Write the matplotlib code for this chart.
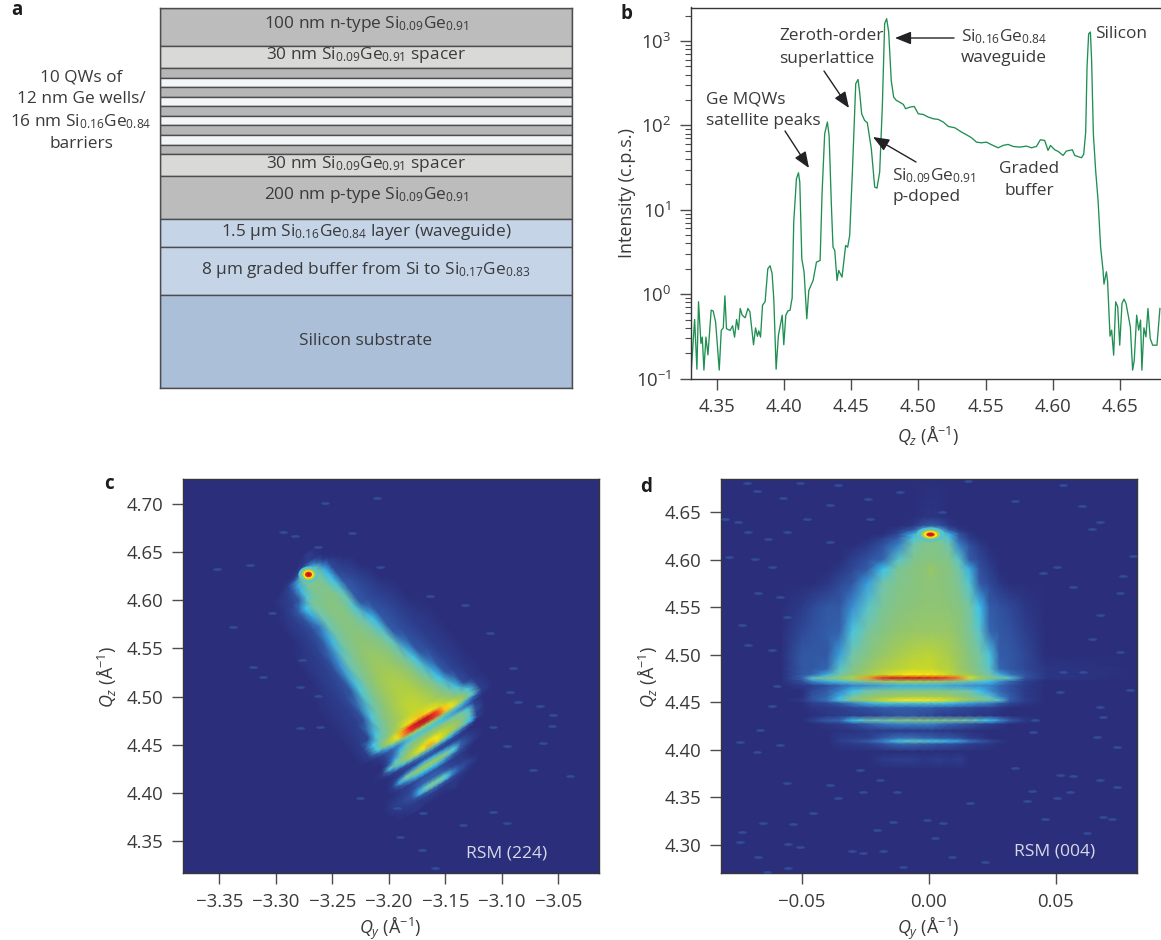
import numpy as np
import matplotlib
matplotlib.use('Agg')
import matplotlib.pyplot as plt
from matplotlib.colors import LinearSegmentedColormap
from matplotlib.path import Path
from matplotlib.transforms import Affine2D

plt.rcParams['font.family'] = ['Open Sans', 'DejaVu Sans']
plt.rcParams['mathtext.fontset'] = 'custom'
plt.rcParams['mathtext.rm'] = 'Open Sans'
plt.rcParams['mathtext.it'] = 'Open Sans:italic'
plt.rcParams['mathtext.bf'] = 'Open Sans:bold'
plt.rcParams['mathtext.default'] = 'regular'

W, H = 1161, 940
TXT = '#3a3a3c'
LINE = '#4b4b50'

# panel a: layer stack, edges counted down from the top of the box
layer_edges = [7.5, 45.5, 68, 77.5, 87, 96.5, 106, 115.5, 125, 135, 144.5, 154, 175.5, 218.5, 247, 294.5, 388]
layer_colors = ['#bcbcbc', '#d9dad8', '#b6b6b6', '#f3f5f7', '#b6b6b6', '#f3f5f7', '#b6b6b6', '#f3f5f7',
                '#b6b6b6', '#f3f5f7', '#b6b6b6', '#d9dad8', '#bcbcbc', '#c5d5e7', '#c5d5e7', '#abbfd9']

# panel b: x-ray trace
qz_b = [4.3309, 4.3337, 4.3354, 4.3366, 4.3384, 4.3394, 4.3406, 4.3421, 4.3436, 4.3460, 4.3475, 4.3493,
        4.3520, 4.3535, 4.3550, 4.3562, 4.3574, 4.3601, 4.3619, 4.3634, 4.3649, 4.3663, 4.3676, 4.3691,
        4.3713, 4.3733, 4.3748, 4.3775, 4.3790, 4.3804, 4.3814, 4.3827, 4.3842, 4.3861, 4.3881, 4.3898,
        4.3913, 4.3926, 4.3943, 4.3960, 4.3988, 4.4000, 4.4015, 4.4030, 4.4047, 4.4059, 4.4062, 4.4074,
        4.4094, 4.4109, 4.4119, 4.4134, 4.4151, 4.4171, 4.4186, 4.4218, 4.4243, 4.4270, 4.4285, 4.4304,
        4.4324, 4.4337, 4.4354, 4.4366, 4.4379, 4.4396, 4.4408, 4.4433, 4.4460, 4.4475, 4.4490, 4.4510,
        4.4535, 4.4552, 4.4564, 4.4579, 4.4601, 4.4621, 4.4651, 4.4676, 4.4693, 4.4713, 4.4733, 4.4750,
        4.4765, 4.4780, 4.4799, 4.4817, 4.4837, 4.4852, 4.4889, 4.4906, 4.4938, 4.4970, 4.5000, 4.5037,
        4.5074, 4.5111, 4.5149, 4.5186, 4.5223, 4.5272, 4.5322, 4.5359, 4.5396, 4.5433, 4.5470, 4.5507,
        4.5545, 4.5594, 4.5631, 4.5668, 4.5705, 4.5755, 4.5804, 4.5842, 4.5879, 4.5908, 4.5940, 4.5965,
        4.5983, 4.6015, 4.6040, 4.6077, 4.6101, 4.6146, 4.6163, 4.6213, 4.6230, 4.6245, 4.6255, 4.6267,
        4.6280, 4.6289, 4.6302, 4.6319, 4.6337, 4.6356, 4.6374, 4.6381, 4.6399, 4.6408, 4.6426, 4.6438,
        4.6453, 4.6468, 4.6483, 4.6498, 4.6515, 4.6530, 4.6545, 4.6577, 4.6594, 4.6606, 4.6624, 4.6639,
        4.6653, 4.6663, 4.6678, 4.6693, 4.6708, 4.6725, 4.6743, 4.6775, 4.6797]
log_i_b = [-0.98, -0.30, -0.89, -0.09, -0.585, -0.51, -0.90, -0.51, -0.72, -0.19, -0.20, -0.33,
           -0.90, -0.43, -0.40, -0.02, -0.41, -0.43, -0.375, -0.51, -0.30, -0.42, -0.17, -0.25,
           -0.28, -0.17, -0.21, -0.60, -0.40, -0.50, -0.435, -0.51, -0.13, -0.09, 0.30, 0.336,
           0.245, -0.07, -0.89, -0.49, -0.25, -0.60, -0.25, -0.20, -0.19, -0.07, -0.055, 0.854,
           1.368, 1.439, 1.328, 0.419, 0.261, -0.292, 0.043, 0.162, 0.379, 0.399, 1.21, 1.90,
           2.04, 1.88, 1.05, 0.557, 0.518, 0.162, 0.281, 0.202, 0.577, 0.557, 0.696, 1.447,
           2.494, 2.545, 2.395, 2.138, 2.059, 2.032, 1.723, 1.269, 1.257, 1.447, 2.237, 3.206,
           3.265, 3.107, 2.534, 2.336, 2.296, 2.285, 2.249, 2.198, 2.217, 2.225, 2.138, 2.130,
           2.099, 2.079, 2.071, 2.04, 1.988, 1.972, 1.921, 1.889, 1.854, 1.802, 1.794, 1.802,
           1.771, 1.735, 1.763, 1.775, 1.751, 1.743, 1.755, 1.735, 1.751, 1.83, 1.822, 1.704,
           1.763, 1.711, 1.692, 1.644, 1.696, 1.711, 1.644, 1.617, 1.656, 1.921, 2.692, 3.087,
           3.107, 2.771, 1.901, 1.466, 1.111, 0.557, 0.281, 0.119, 0.265, 0.146, -0.498, -0.427,
           -0.723, -0.091, -0.150, -0.605, -0.111, -0.059, -0.111, -0.387, -0.901, -0.783, -0.249, -0.427,
           -0.308, -0.901, -0.399, -0.506, -0.170, -0.526, -0.605, -0.605, -0.170]

# panel c: intensity map, rows run along the slanted fringes (0-100 scale)
v_c = [4.650, 4.640, 4.634, 4.630, 4.627, 4.624, 4.620, 4.612, 4.604, 4.595, 4.585, 4.570, 4.550, 4.525, 4.500,
       4.485, 4.479, 4.476, 4.473, 4.470, 4.466, 4.462, 4.458, 4.454, 4.450, 4.446, 4.442, 4.438, 4.434, 4.430,
       4.427, 4.424, 4.420, 4.414, 4.410, 4.407, 4.404, 4.400, 4.392]
w_c = [-.06, -.05, -.042, -.036, -.03, -.024, -.018, -.012, -.006, -.002, .002, .006, .012, .018, .024, .03, .036, .042, .05, .06]
axis_v_c = [4.38, 4.407, 4.427, 4.45, 4.473, 4.627]
axis_qy_c = [-3.160, -3.161, -3.1665, -3.1636, -3.168, -3.271]
fringe_slope_c = 0.697
z_c = [
    [0, 0, 0, 0, 0, 0, 0, 0, 0, 5, 5, 0, 0, 0, 0, 0, 0, 0, 0, 0],
    [0, 0, 0, 0, 0, 0, 0, 0, 4, 8, 8, 5, 0, 0, 0, 0, 0, 0, 0, 0],
    [0, 0, 0, 0, 0, 0, 0, 4, 12, 22, 24, 18, 6, 0, 0, 0, 0, 0, 0, 0],
    [0, 0, 0, 0, 0, 0, 4, 10, 26, 38, 40, 32, 16, 6, 0, 0, 0, 0, 0, 0],
    [0, 0, 0, 0, 0, 0, 8, 18, 36, 48, 48, 38, 22, 10, 4, 0, 0, 0, 0, 0],
    [0, 0, 0, 0, 0, 4, 10, 24, 38, 44, 44, 40, 26, 10, 6, 0, 0, 0, 0, 0],
    [0, 0, 0, 0, 4, 6, 12, 26, 38, 42, 42, 38, 27, 10, 7, 4, 0, 0, 0, 0],
    [0, 0, 0, 0, 6, 9, 14, 31, 40, 42, 42, 38, 29, 12, 9, 6, 0, 0, 0, 0],
    [0, 0, 0, 4, 8, 14, 28, 38, 42, 42, 44, 42, 32, 14, 11, 8, 4, 0, 0, 0],
    [0, 0, 0, 5, 8, 12, 24, 36, 42, 44, 44, 42, 34, 14, 11, 9, 6, 0, 0, 0],
    [0, 0, 0, 5, 8, 11, 19, 34, 42, 44, 44, 42, 31, 13, 11, 9, 7, 4, 0, 0],
    [0, 0, 4, 6, 9, 14, 26, 37, 42, 44, 44, 42, 35, 27, 13, 11, 9, 6, 0, 0],
    [0, 0, 6, 8, 11, 22, 34, 41, 46, 48, 48, 46, 42, 33, 14, 11, 9, 7, 4, 0],
    [0, 4, 7, 10, 13, 30, 39, 47, 52, 54, 54, 52, 48, 40, 29, 13, 11, 8, 5, 0],
    [0, 5, 8, 12, 30, 39, 46, 53, 58, 60, 60, 60, 55, 48, 39, 28, 13, 9, 5, 0],
    [0, 6, 10, 29, 37, 45, 52, 58, 63, 65, 65, 63, 60, 55, 47, 39, 29, 11, 5, 0],
    [0, 8, 28, 36, 42, 52, 62, 72, 78, 80, 80, 78, 72, 66, 56, 46, 38, 30, 8, 0],
    [0, 8, 30, 44, 56, 70, 84, 92, 98, 99, 99, 96, 90, 80, 70, 56, 46, 32, 8, 0],
    [0, 8, 30, 46, 62, 72, 86, 92, 96, 98, 98, 94, 90, 80, 72, 60, 46, 32, 8, 0],
    [0, 6, 16, 24, 32, 40, 46, 50, 54, 54, 54, 52, 48, 44, 40, 32, 24, 16, 6, 0],
    [0, 0, 6, 12, 16, 20, 26, 30, 30, 30, 30, 30, 28, 26, 24, 20, 16, 8, 0, 0],
    [0, 0, 4, 10, 16, 26, 36, 40, 42, 44, 44, 44, 42, 40, 38, 36, 30, 10, 0, 0],
    [0, 0, 0, 10, 20, 33, 41, 47, 52, 54, 55, 56, 56, 52, 48, 42, 34, 12, 0, 0],
    [0, 0, 0, 12, 29, 40, 49, 58, 66, 70, 72, 74, 66, 58, 52, 42, 31, 8, 0, 0],
    [0, 0, 6, 31, 40, 47, 57, 68, 76, 82, 82, 74, 66, 55, 45, 36, 27, 8, 0, 0],
    [0, 0, 4, 14, 24, 30, 36, 40, 42, 42, 42, 40, 34, 28, 22, 16, 10, 0, 0, 0],
    [0, 0, 0, 4, 8, 10, 14, 16, 18, 18, 18, 16, 14, 12, 10, 6, 0, 0, 0, 0],
    [0, 0, 0, 0, 4, 6, 8, 8, 10, 10, 10, 10, 8, 8, 8, 6, 4, 0, 0, 0],
    [0, 0, 0, 0, 6, 10, 16, 20, 24, 26, 26, 26, 24, 22, 18, 12, 8, 4, 0, 0],
    [0, 0, 0, 0, 8, 22, 34, 40, 46, 48, 48, 48, 44, 36, 32, 14, 10, 4, 0, 0],
    [0, 0, 0, 0, 8, 26, 36, 44, 50, 50, 50, 50, 46, 38, 30, 14, 10, 6, 0, 0],
    [0, 0, 0, 0, 6, 14, 20, 26, 28, 28, 28, 28, 26, 20, 14, 10, 6, 0, 0, 0],
    [0, 0, 0, 0, 2, 6, 8, 10, 12, 12, 12, 12, 10, 8, 6, 4, 0, 0, 0, 0],
    [0, 0, 0, 4, 6, 8, 10, 14, 16, 16, 16, 16, 14, 10, 8, 6, 0, 0, 0, 0],
    [0, 0, 0, 6, 8, 10, 12, 24, 32, 36, 36, 36, 32, 20, 12, 10, 6, 0, 0, 0],
    [0, 0, 0, 5, 8, 10, 12, 26, 34, 36, 36, 34, 30, 18, 12, 8, 4, 0, 0, 0],
    [0, 0, 0, 4, 6, 8, 10, 12, 14, 16, 16, 14, 12, 10, 8, 6, 0, 0, 0, 0],
    [0, 0, 0, 0, 4, 6, 6, 6, 8, 8, 8, 6, 6, 6, 4, 0, 0, 0, 0, 0],
    [0, 0, 0, 0, 0, 0, 4, 4, 0, 0, 0, 0, 0, 4, 0, 0, 0, 0, 0, 0],
]
speck_qy_c = [-3.2565, -3.2108, -3.2934, -3.2830, -3.2329, -3.3524, -3.3229, -3.2078, -3.2624, -3.1326, -3.1636,
              -3.3037, -3.3376, -3.1105, -3.0898, -3.3199, -3.2771, -3.3111, -3.2786, -3.2624, -3.0928, -3.0662,
              -3.0854, -3.0544, -3.0559, -3.1075, -3.2786, -3.2609, -3.0633, -3.0721, -3.0397, -3.0957, -3.2255,
              -3.1931, -3.1695, -3.1075, -3.0957, -3.1901, -3.1341, -3.1709, -3.1591]
speck_qz_c = [4.7007, 4.7059, 4.6713, 4.6668, 4.6695, 4.6325, 4.6366, 4.6349, 4.6557, 4.5951, 4.6044,
              4.5871, 4.5726, 4.5663, 4.5293, 4.5310, 4.5379, 4.5199, 4.5102, 4.5009, 4.5051, 4.4902,
              4.4940, 4.4808, 4.4694, 4.4687, 4.4670, 4.4687, 4.4514, 4.4237, 4.4178, 4.4486, 4.3943,
              4.3839, 4.3787, 4.3804, 4.3683, 4.3544, 4.3666, 4.3406, 4.3215]

# panel d: intensity map (0-100 scale)
qy_d = [-.082, -.058, -.050, -.046, -.040, -.035, -.030, -.024, -.018, -.012, -.006, -.002, .001, .004, .008,
        .012, .016, .020, .024, .028, .032, .038, .046, .082]
qz_d = [4.685, 4.645, 4.636, 4.631, 4.627, 4.623, 4.615, 4.600, 4.590, 4.575, 4.550, 4.525, 4.500, 4.485,
        4.479, 4.4755, 4.472, 4.4675, 4.462, 4.456, 4.452, 4.449, 4.444, 4.436, 4.431, 4.427, 4.420, 4.412,
        4.409, 4.406, 4.398, 4.390, 4.380, 4.270]
z_d = [
    [0] * 24,
    [0, 0, 0, 0, 0, 0, 0, 0, 0, 0, 0, 3, 3, 3, 0, 0, 0, 0, 0, 0, 0, 0, 0, 0],
    [0, 0, 0, 0, 0, 0, 0, 0, 0, 0, 4, 12, 14, 12, 5, 0, 0, 0, 0, 0, 0, 0, 0, 0],
    [0, 0, 0, 0, 0, 0, 0, 0, 0, 6, 14, 30, 36, 30, 14, 5, 0, 0, 0, 0, 0, 0, 0, 0],
    [0, 0, 0, 0, 0, 0, 0, 0, 0, 10, 26, 44, 48, 44, 26, 12, 4, 0, 0, 0, 0, 0, 0, 0],
    [0, 0, 0, 0, 0, 0, 0, 0, 8, 14, 30, 40, 44, 40, 30, 14, 6, 0, 0, 0, 0, 0, 0, 0],
    [0, 0, 0, 0, 0, 0, 0, 6, 12, 20, 36, 42, 42, 42, 36, 20, 12, 6, 0, 0, 0, 0, 0, 0],
    [0, 0, 0, 0, 0, 0, 8, 12, 16, 32, 42, 44, 44, 44, 42, 32, 14, 10, 5, 0, 0, 0, 0, 0],
    [0, 0, 0, 0, 0, 5, 10, 14, 28, 40, 44, 46, 50, 46, 44, 36, 26, 12, 8, 0, 0, 0, 0, 0],
    [0, 0, 0, 0, 4, 10, 13, 24, 36, 42, 44, 46, 46, 46, 44, 40, 31, 14, 10, 5, 0, 0, 0, 0],
    [0, 0, 6, 10, 13, 13, 22, 32, 40, 44, 46, 47, 47, 47, 46, 44, 38, 28, 14, 12, 10, 5, 0, 0],
    [0, 0, 10, 12, 14, 15, 30, 38, 44, 48, 50, 50, 50, 50, 50, 46, 40, 32, 16, 13, 12, 8, 0, 0],
    [0, 0, 13, 13, 13, 24, 36, 44, 50, 56, 60, 62, 62, 60, 56, 50, 44, 38, 30, 14, 13, 10, 0, 0],
    [0, 0, 13, 13, 16, 32, 42, 50, 58, 62, 66, 66, 66, 62, 60, 52, 46, 40, 32, 16, 13, 10, 4, 0],
    [0, 0, 13, 15, 26, 36, 46, 56, 66, 72, 76, 74, 74, 72, 66, 58, 52, 44, 36, 26, 18, 12, 4, 0],
    [0, 0, 15, 32, 42, 50, 60, 84, 93, 97, 98, 97, 96, 94, 90, 86, 70, 56, 46, 40, 32, 12, 4, 0],
    [0, 0, 11, 20, 26, 30, 34, 42, 50, 54, 56, 54, 52, 50, 46, 40, 34, 32, 28, 22, 16, 8, 0, 0],
    [0, 0, 6, 8, 12, 16, 20, 22, 24, 26, 26, 26, 26, 26, 24, 24, 22, 22, 20, 16, 12, 6, 0, 0],
    [0, 0, 0, 10, 14, 20, 28, 36, 40, 42, 42, 42, 42, 42, 40, 38, 34, 28, 22, 16, 12, 6, 0, 0],
    [0, 0, 0, 12, 16, 26, 38, 46, 50, 52, 54, 54, 54, 54, 52, 48, 44, 38, 32, 20, 14, 6, 0, 0],
    [0, 0, 6, 12, 18, 30, 44, 54, 66, 74, 76, 76, 74, 72, 68, 60, 50, 44, 38, 32, 14, 8, 0, 0],
    [0, 0, 0, 8, 10, 14, 20, 26, 30, 30, 30, 30, 30, 30, 28, 26, 24, 22, 20, 14, 10, 4, 0, 0],
    [0, 0, 0, 4, 6, 8, 10, 12, 14, 14, 14, 14, 14, 12, 12, 10, 10, 8, 8, 4, 0, 0, 0, 0],
    [0, 0, 0, 0, 4, 6, 8, 8, 10, 12, 12, 10, 10, 8, 8, 6, 6, 4, 4, 0, 0, 0, 0, 0],
    [0, 0, 0, 8, 14, 16, 28, 34, 36, 42, 44, 44, 42, 42, 40, 38, 36, 32, 28, 22, 14, 6, 0, 0],
    [0, 0, 0, 0, 4, 6, 10, 14, 18, 20, 20, 20, 20, 18, 16, 14, 12, 10, 8, 4, 0, 0, 0, 0],
    [0, 0, 0, 0, 0, 2, 2, 6, 6, 6, 6, 6, 6, 4, 4, 2, 2, 0, 0, 0, 0, 0, 0, 0],
    [0, 0, 0, 0, 0, 6, 8, 8, 14, 18, 18, 16, 16, 14, 14, 12, 8, 6, 0, 0, 0, 0, 0, 0],
    [0, 0, 0, 0, 0, 8, 10, 14, 20, 30, 34, 32, 30, 30, 26, 24, 18, 14, 10, 6, 0, 0, 0, 0],
    [0, 0, 0, 0, 0, 4, 6, 8, 12, 16, 16, 14, 14, 12, 12, 10, 8, 6, 4, 0, 0, 0, 0, 0],
    [0] * 24,
    [0, 0, 0, 0, 0, 0, 0, 0, 6, 8, 8, 5, 6, 8, 5, 8, 0, 0, 0, 0, 0, 0, 0, 0],
    [0] * 24,
    [0] * 24,
]
speck_qy_d = [-.0717, -.0677, -.0507, -.0356, -.0238, -.0388, -.0113, .0156, .0530, .0340, .0602, -.0572, -.0802,
              -.0749, -.0480, -.0231, .0051, .0675, -.0710, -.0631, -.0559, -.0388, .0642, .0806, -.0786, -.0684,
              -.0618, .0451, .0504, .0766, -.0671, -.0585, .0753, .0570, -.0559, .0675, -.0736, -.0710, -.0618,
              .0642, .0753, .0530, .0609, -.0598, .0793, -.0618, .0517, .0675, .0688, .0419, -.0664, .0661, .0740,
              -.0743, -.0585, -.0677, .0412, .0340, -.0270, -.0192, -.0559, -.0388, .0517, .0570, .0675, .0740,
              -.0257, -.0126, .0163, .0406, .0556, .0386, .0504, -.0356, -.0651, -.0454, -.0139, -.0008, .0058,
              .0458, .0688, .0720, -.0736, -.0533, -.0205, .0025, -.0743, .0622, -.0552, -.0507, -.0303, -.0257,
              -.0178, -.0671, .0091, .0222, -.0100, -.0552, -.0638]
speck_qz_d = [4.6805, 4.6728, 4.6805, 4.6788, 4.6637, 4.6577, 4.6717, 4.6833, 4.6788, 4.6623, 4.6567, 4.6647, 4.6426,
              4.6402, 4.6426, 4.6426, 4.6507, 4.6402, 4.6297, 4.6216, 4.6297, 4.6191, 4.6321, 4.6041, 4.6026, 4.6005,
              4.5928, 4.5858, 4.5928, 4.5830, 4.5648, 4.5613, 4.5648, 4.5718, 4.5402, 4.5420, 4.5314, 4.5104, 4.5051,
              4.5164, 4.5034, 4.4823, 4.4823, 4.4673, 4.4630, 4.4462, 4.4613, 4.4455, 4.4350, 4.4315, 4.4210, 4.4139,
              4.4034, 4.4087, 4.4052, 4.3982, 4.4192, 4.3806, 4.3789, 4.3683, 4.3655, 4.3631, 4.3736, 4.3726, 4.3683,
              4.3613, 4.3561, 4.3561, 4.3438, 4.3571, 4.3561, 4.3462, 4.3490, 4.3490, 4.3234, 4.3333, 4.3245, 4.3263,
              4.3234, 4.3270, 4.3291, 4.3273, 4.3136, 4.3217, 4.3157, 4.3070, 4.3035, 4.3129, 4.3007, 4.2975, 4.2936,
              4.2912, 4.2936, 4.2877, 4.2877, 4.2824, 4.2765, 4.2754, 4.2719]

# silicon substrate peak: centre and the levels of its nested contours
si_qy_c, si_qz_c = -3.2715, 4.6270
si_qy_d, si_qz_d = 0.0007, 4.6270
si_levels = [0.31, 0.56, 0.76, 0.92, 1.0]

xticks_b = [4.35, 4.40, 4.45, 4.50, 4.55, 4.60, 4.65]
xticks_c = [-3.35, -3.30, -3.25, -3.20, -3.15, -3.10, -3.05]
yticks_c = [4.35, 4.40, 4.45, 4.50, 4.55, 4.60, 4.65, 4.70]
xticks_d = [-0.05, 0.0, 0.05]
yticks_d = [4.30, 4.35, 4.40, 4.45, 4.50, 4.55, 4.60, 4.65]

rsm_cmap = LinearSegmentedColormap.from_list('rsm', [
    (0.00, '#2b2f7b'), (0.08, '#2d3f8e'), (0.16, '#3568b2'), (0.22, '#3a8fd2'), (0.28, '#3cc4ee'),
    (0.34, '#6cc4b4'), (0.46, '#8cc478'), (0.56, '#a8cc50'), (0.66, '#c8d828'), (0.76, '#fde910'),
    (0.84, '#f8a020'), (0.92, '#ee2a24'), (1.00, '#b81c20')])


def px_axes(fig, left, top, right, bottom):
    return fig.add_axes([left / W, 1 - bottom / H, (right - left) / W, (bottom - top) / H])


def si_ge(a, b):
    return r'$Si_{%s}Ge_{%s}$' % (a, b)


def si_spot(ax, qy, qz, sizes, aspect):
    spot = Path.unit_circle().transformed(Affine2D().scale(1, aspect))
    for lev, s in zip(si_levels, sizes):
        ax.scatter([qy], [qz], s=s, marker=spot, color=rsm_cmap(lev), linewidths=0, zorder=4)


fig = plt.figure(figsize=(W / 100, H / 100), dpi=100)

# panel a
ax_a = px_axes(fig, 160, 7.5, 572, 388)
edges = np.array(layer_edges)
ax_a.barh((edges[:-1] + edges[1:]) / 2, 1, height=np.diff(edges), left=0, color=layer_colors,
          edgecolor=LINE, linewidth=1.0)
ax_a.set_xlim(0, 1)
ax_a.set_ylim(388, 7.5)
ax_a.set_xticks([])
ax_a.set_yticks([])
for s in ax_a.spines.values():
    s.set_color(LINE)
    s.set_linewidth(1.0)
layer_text = [(24, '100 nm n-type ' + si_ge('0.09', '0.91')),
              (55, '30 nm ' + si_ge('0.09', '0.91') + ' spacer'),
              (164, '30 nm ' + si_ge('0.09', '0.91') + ' spacer'),
              (195, '200 nm p-type ' + si_ge('0.09', '0.91')),
              (232, '1.5 \u00b5m ' + si_ge('0.16', '0.84') + ' layer (waveguide)'),
              (270, '8 \u00b5m graded buffer from Si to ' + si_ge('0.17', '0.83')),
              (341, 'Silicon substrate')]
for y, s in layer_text:
    ax_a.text(0.5, y, s, ha='center', va='center', fontsize=12.4, color=TXT)

# panel b
ax_b = px_axes(fig, 691, 7.5, 1161, 378.5)
ax_b.plot(qz_b, 10 ** np.array(log_i_b), color='#1f8f52', lw=0.95)
ax_b.set_yscale('log')
ax_b.set_xlim(4.331, 4.6805)
ax_b.set_ylim(0.1, 2500)
ax_b.set_xticks(xticks_b)
ax_b.set_xticklabels(['%.2f' % t for t in xticks_b])
ax_b.spines['right'].set_visible(False)

# panel c
ax_c = px_axes(fig, 183, 479, 599, 873.3)
rows = np.array(v_c)
centers = np.interp(rows, axis_v_c, axis_qy_c)
w_grid = np.array(w_c)
X_c = centers[:, None] + w_grid[None, :]
Y_c = rows[:, None] + fringe_slope_c * w_grid[None, :]
ax_c.set_facecolor(rsm_cmap(0.0))
ax_c.pcolormesh(X_c, Y_c, np.array(z_c), shading='gouraud', cmap=rsm_cmap, vmin=0, vmax=100)
ax_c.set_xlim(-3.3822, -3.014)
ax_c.set_ylim(4.3164, 4.726)
ax_c.set_xticks(xticks_c)
ax_c.set_xticklabels([('%.2f' % t).replace('-', '\u2212') for t in xticks_c])
ax_c.set_yticks(yticks_c)
ax_c.set_yticklabels(['%.2f' % t for t in yticks_c])

# panel d
ax_d = px_axes(fig, 721, 479, 1136.7, 873.3)
ax_d.set_facecolor(rsm_cmap(0.0))
ax_d.pcolormesh(qy_d, qz_d, np.array(z_d), shading='gouraud', cmap=rsm_cmap, vmin=0, vmax=100)
ax_d.set_xlim(-0.08176, 0.0819)
ax_d.set_ylim(4.2702, 4.685)
ax_d.set_xticks(xticks_d)
ax_d.set_xticklabels(['\u22120.05', '0.00', '0.05'])
ax_d.set_yticks(yticks_d)
ax_d.set_yticklabels(['%.2f' % t for t in yticks_d])

speck = Path.unit_circle().transformed(Affine2D().scale(1, 0.32))
ax_c.scatter(speck_qy_c, speck_qz_c, s=40, marker=speck, color='#34529f', alpha=0.8, linewidths=0, zorder=3)
ax_d.scatter(speck_qy_d, speck_qz_d, s=40, marker=speck, color='#34529f', alpha=0.8, linewidths=0, zorder=3)
si_spot(ax_c, si_qy_c, si_qz_c, [210, 110, 55, 26, 8], 0.8)
si_spot(ax_d, si_qy_d, si_qz_d, [420, 190, 95, 38, 12], 0.5)

for ax in (ax_b, ax_c, ax_d):
    ax.tick_params(axis='both', which='major', length=8, width=1.0, color=LINE,
                   labelsize=13.4, labelcolor=TXT, pad=6)
    ax.tick_params(axis='both', which='minor', length=4, width=0.8, color=LINE)
    for s in ax.spines.values():
        s.set_color('#35353a')
        s.set_linewidth(1.0)

# short inward ticks along the top and right of d
top_d = ax_d.secondary_xaxis('top')
top_d.set_xticks(xticks_d)
top_d.set_xticklabels([])
top_d.tick_params(direction='in', length=4, width=1.0, color='#22263a')
right_d = ax_d.secondary_yaxis('right')
right_d.set_yticks(yticks_d)
right_d.set_yticklabels([])
right_d.tick_params(direction='in', length=4, width=1.0, color='#22263a')
for sec in (top_d, right_d):
    for s in sec.spines.values():
        s.set_visible(False)

# labels and arrows go on a full-figure layer in pixel coordinates
ov = fig.add_axes([0, 0, 1, 1], zorder=10)
ov.set_xlim(0, W)
ov.set_ylim(H, 0)
ov.axis('off')


def put(x, y, s, ha='left', size=12.4, **kw):
    kw.setdefault('color', TXT)
    ov.text(x, y, s, ha=ha, va='center', fontsize=size, **kw)


def arrow(x0, y0, x1, y1):
    ov.annotate('', xy=(x1, y1), xytext=(x0, y0),
                arrowprops=dict(arrowstyle='-|>,head_length=0.75,head_width=0.3', color='#222226',
                                lw=1.0, mutation_scale=13, shrinkA=0, shrinkB=0))


for x, y, s in [(17, 10, 'a'), (627, 14, 'b'), (109, 484, 'c'), (646, 487, 'd')]:
    put(x, y, s, ha='center', size=13.5, fontweight='bold', color='#1c1c1e')

for y, s in [(77, '10 QWs of'), (99, '12 nm Ge wells/'),
             (122, '16 nm ' + si_ge('0.16', '0.84')), (144, 'barriers')]:
    put(81, y, s, ha='center')

put(779, 36, 'Zeroth-order')
put(779, 59, 'superlattice')
put(706, 99, 'Ge MQWs')
put(706, 121, 'satellite peaks')
put(961, 37, si_ge('0.16', '0.84'))
put(961, 58, 'waveguide')
put(1095, 34, 'Silicon')
put(892, 176, si_ge('0.09', '0.91'))
put(892, 197, 'p-doped')
put(1029, 169, 'Graded', ha='center')
put(1029, 191, 'buffer', ha='center')
put(507, 853, 'RSM (224)', ha='center', size=12.6, color='#d5d9ea')
put(1055, 852, 'RSM (004)', ha='center', size=12.6, color='#d5d9ea')

ang = '\u00c5'
put(928, 435, r'$\mathit{Q_z}$ (' + ang + r'$^{-1}$)', ha='center', size=13)
put(390, 928, r'$\mathit{Q_y}$ (' + ang + r'$^{-1}$)', ha='center', size=13)
put(928, 928, r'$\mathit{Q_y}$ (' + ang + r'$^{-1}$)', ha='center', size=13)
put(627, 193, 'Intensity (c.p.s.)', ha='center', size=13, rotation=90)
put(106, 677, r'$\mathit{Q_z}$ (' + ang + r'$^{-1}$)', ha='center', size=13, rotation=90)
put(647, 677, r'$\mathit{Q_z}$ (' + ang + r'$^{-1}$)', ha='center', size=13, rotation=90)

arrow(785, 131, 809, 168)
arrow(824, 71, 849, 108)
arrow(916, 162, 873, 137)
arrow(954, 38, 895, 38)

fig.savefig('out.png', dpi=100)
